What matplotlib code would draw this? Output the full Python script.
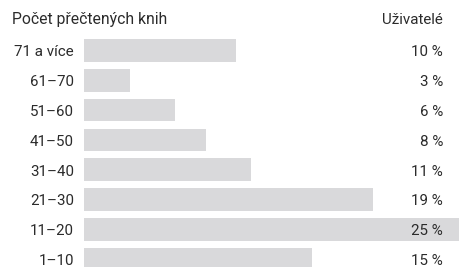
import matplotlib
matplotlib.use('Agg')
import matplotlib.pyplot as plt

categories = ['71 a více', '61–70', '51–60', '41–50', '31–40', '21–30', '11–20', '1–10']
shares = [10, 3, 6, 8, 11, 19, 25, 15]
header_left = 'Počet přečtených knih'
header_right = 'Uživatelé'

W, H = 459, 267
BAR = '#d9d9db'
TEXT = '#2b2b2b'
plt.rcParams['font.family'] = ['Roboto', 'DejaVu Sans']

fig = plt.figure(figsize=(W / 100, H / 100), dpi=100)
# axes spans x 84..459 px, full height
ax = fig.add_axes([84 / W, 0, 1 - 84 / W, 1])
pitch, top = 29.8, 50.5
ax.barh(range(len(categories)), shares, height=0.76, color=BAR)
ax.set_xlim(0, (W - 84) / 15.2)
ax.set_ylim((H - top) / pitch, -top / pitch)
ax.axis('off')

tr = ax.get_yaxis_transform()
fs = 10.9
for i, (cat, v) in enumerate(zip(categories, shares)):
    yb = i + 5.8 / pitch
    ax.text(-10 / 375, yb, cat, transform=tr, ha='right', va='baseline',
            fontsize=fs, color=TEXT, clip_on=False)
    ax.text((443 - 84) / 375, yb, f'{v} %', transform=tr, ha='right',
            va='baseline', fontsize=fs, color=TEXT, clip_on=False)

fig.text(12.5 / W, 1 - 24 / H, header_left, ha='left', va='baseline',
         fontsize=fs + 0.4, color=TEXT)
fig.text(443 / W, 1 - 24 / H, header_right, ha='right', va='baseline',
         fontsize=fs, color=TEXT)

fig.savefig('out.png', dpi=100)
